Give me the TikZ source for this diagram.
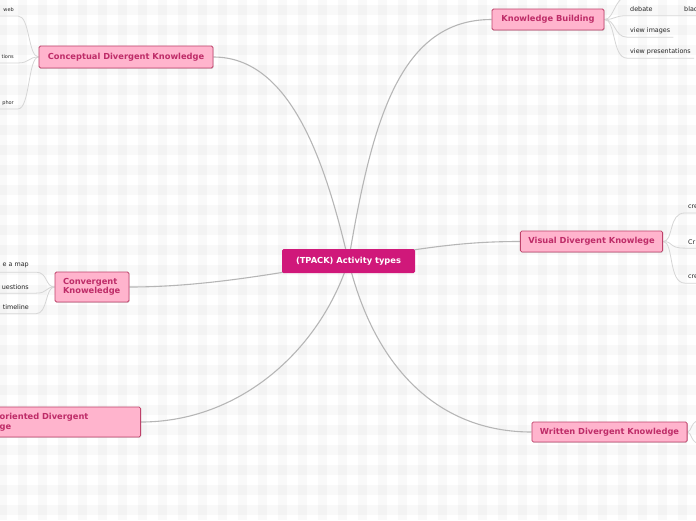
\documentclass[tikz,border=0pt]{standalone}
\usepackage{fontspec}
\setmainfont{DejaVu Sans}
\usetikzlibrary{backgrounds,shadows}
\definecolor{mmpink}{RGB}{255,180,205}
\definecolor{mmedge}{RGB}{190,66,106}
\definecolor{mmtext}{RGB}{190,44,104}
\definecolor{mmroot}{RGB}{208,24,122}
\definecolor{mmline}{RGB}{182,182,182}
\definecolor{mmleaf}{RGB}{214,214,214}
\tikzset{
  topic/.style={draw=mmedge, line width=0.8pt, fill=mmpink, text=mmtext, rounded corners=1.5pt,
    font=\fontsize{8.3}{9.6}\selectfont\bfseries, inner xsep=8pt, minimum height=21pt,
    drop shadow={opacity=0.25, shadow xshift=0.6pt, shadow yshift=-0.9pt}},
  root/.style={fill=mmroot, text=white, rounded corners=1.5pt,
    font=\fontsize{8.3}{9.6}\selectfont\bfseries, minimum width=133pt, minimum height=24pt},
  leaf/.style={font=\fontsize{6.4}{7}\selectfont, text=black!85, inner xsep=3pt, inner ysep=0pt,
    minimum height=12.5pt},
  smallleaf/.style={leaf, font=\fontsize{5}{6}\selectfont, minimum height=11.5pt},
  branch/.style={draw=mmline, line width=1.1pt},
  twig/.style={draw=mmleaf, line width=0.8pt}
}
\begin{document}
\begin{tikzpicture}[x=1pt,y=-1pt]
  \useasboundingbox (0,0) rectangle (696,520);
  \clip (0,0) rectangle (696,520);
  % main topics
  \node[root] (act) at (348.5,261) {(TPACK) Activity types};
  \node[topic, minimum width=112pt] (kb) at (548,19.5) {Knowledge Building};
  \node[topic, minimum width=174pt, minimum height=22pt] (cdk) at (126,57) {Conceptual Divergent Knowledge};
  \node[topic, minimum width=137pt] (vdk) at (591.5,241.5) {Visual Divergent Knowlege};
  \node[topic, minimum width=149pt, minimum height=20pt] (wdk) at (609.5,432) {Written Divergent Knowledge};
  \node[topic, align=left, text width=58pt, minimum height=30pt] (ck) at (92,287) {Convergent\\Knoweledge};
  \node[topic, align=left, text width=133pt, minimum height=30pt, anchor=east] (pod) at (141,422) {oriented Divergent\\ge};
  % leaves
  \node[leaf, anchor=west] (deb) at (627,9.3) {debate};
  \node[leaf, anchor=west] (blac) at (681,9.3) {blac};
  \node[leaf, anchor=west] (vimg) at (627,30.7) {view images};
  \node[leaf, anchor=west] (vpres) at (627,51.7) {view presentations};
  \coordinate (kbtop) at (640,-8);
  \node[leaf, anchor=west] (vis1) at (685,206.5) {cre};
  \node[leaf, anchor=west] (vis2) at (685,241.7) {Cr};
  \node[leaf, anchor=west] (vis3) at (685,276.7) {cre};
  \node[smallleaf, anchor=east, inner xsep=4pt] (con1) at (18,10) {web};
  \node[smallleaf, anchor=east, inner xsep=4pt] (con2) at (18,57) {tions};
  \node[smallleaf, anchor=east, inner xsep=4pt] (con3) at (18,103) {phor};
  \node[leaf, anchor=east, inner xsep=7pt] (cv1) at (36,265.7) {e a map};
  \node[leaf, anchor=east, inner xsep=7pt] (cv2) at (36,286.7) {uestions};
  \node[leaf, anchor=east, inner xsep=7pt] (cv3) at (36,307.3) {timeline};
  \coordinate (wr1) at (702,420);
  \coordinate (wr2) at (702,444);
  \begin{scope}[on background layer]
    \fill[white] (0,0) rectangle (696,520);
    \foreach \x in {-2,18,...,696} \fill[black,opacity=0.022] (\x,0) rectangle ++(9,520);
    \foreach \y in {-15,5,...,520} \fill[black,opacity=0.022] (0,\y) rectangle ++(696,10);
    \path[branch] (act.center) .. controls (372,120) and (400,19.5) .. (kb.west);
    \path[branch] (cdk.east) .. controls (290,57) and (325,160) .. (act.center);
    \path[branch] (act.center) .. controls (430,246) and (470,241.5) .. (vdk.west);
    \path[branch] (ck.east) .. controls (200,287) and (270,275) .. (act.center);
    \path[branch] (pod.east) .. controls (240,422) and (320,350) .. (act.center);
    \path[branch] (act.center) .. controls (375,370) and (440,432) .. (wdk.west);
    % knowledge building
    \path[twig] (kb.east) .. controls (616,19.5) and (612,-8) .. (kbtop);
    \path[twig] (kb.east) .. controls (616,19.5) and (614,15.5) .. (deb.south west) -- (deb.south east) -- (blac.south west) -- (blac.south east);
    \path[twig] (kb.east) .. controls (616,19.5) and (614,37) .. (vimg.south west) -- (vimg.south east);
    \path[twig] (kb.east) .. controls (616,19.5) and (612,58) .. (vpres.south west) -- (vpres.south east);
    % visual
    \foreach \n in {vis1,vis2,vis3}
      \path[twig] (vdk.east) .. controls (674,241.5) and (668,241.5|-\n.south) .. (\n.south west) -- (\n.south east);
    % conceptual
    \foreach \n in {con1,con2,con3}
      \path[twig] (cdk.west) .. controls (28,57) and (30,57|-\n.south) .. (\n.south east) -- (\n.south west);
    % convergent
    \foreach \n in {cv1,cv2,cv3}
      \path[twig] (ck.west) .. controls (45,287) and (48,287|-\n.south) .. (\n.south east) -- (\n.south west);
    % written
    \path[twig] (wdk.east) .. controls (692,432) and (690,420) .. (wr1);
    \path[twig] (wdk.east) .. controls (692,432) and (690,444) .. (wr2);
  \end{scope}
\end{tikzpicture}
\end{document}
